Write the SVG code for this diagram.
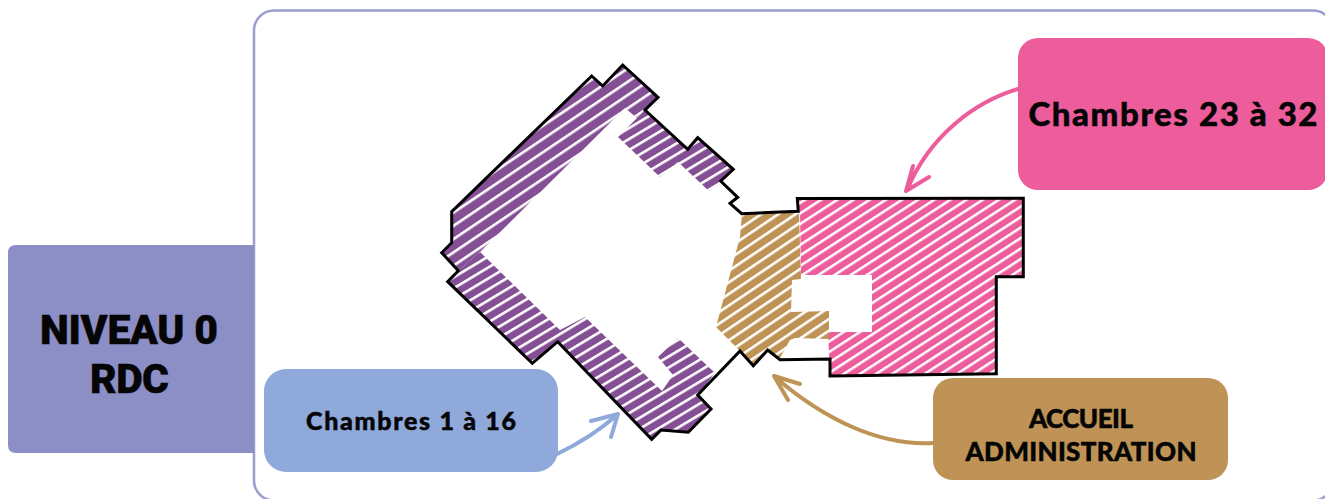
<svg xmlns="http://www.w3.org/2000/svg" width="1325" height="499" viewBox="0 0 1325 499">
<style>
.lbl{font-family:"Lato","Open Sans",sans-serif;font-weight:900;fill:#050505;stroke:#050505;stroke-width:.5;text-anchor:middle}
.head{font-family:"Roboto",sans-serif;font-weight:900;fill:#050505;stroke:#050505;stroke-width:.4;text-anchor:middle;font-size:41px}
.conn{fill:none;stroke-width:4;stroke-linecap:round;stroke-linejoin:round}
</style>
<defs>
<pattern id="hp" patternUnits="userSpaceOnUse" width="20" height="11" patternTransform="translate(452 212) rotate(-34)"><rect width="20" height="11" fill="#854f95"/><rect width="20" height="2.600" fill="#fff"/></pattern>
<pattern id="hq" patternUnits="userSpaceOnUse" width="20" height="9.400" patternTransform="translate(450 278) rotate(-31)"><rect width="20" height="9.400" fill="#854f95"/><rect width="20" height="2.600" fill="#fff"/></pattern>
<pattern id="hr" patternUnits="userSpaceOnUse" width="20" height="8.800" patternTransform="translate(800 212) rotate(-33)"><rect width="20" height="8.800" fill="#ed5c9b"/><rect width="20" height="2.500" fill="#fff"/></pattern>
<pattern id="hb" patternUnits="userSpaceOnUse" width="20" height="9.600" patternTransform="translate(742 214) rotate(-34)"><rect width="20" height="9.600" fill="#bf9355"/><rect width="20" height="2.600" fill="#fff"/></pattern>
</defs>
<rect width="1325" height="499" fill="#fff"/>
<rect id="frame" x="254" y="10.500" width="1079" height="490" rx="20" fill="#fff" stroke="#9a9dd0" stroke-width="2.500"/>
<g id="plan">
<polygon fill="url(#hp)" points="452,212 592,76 603,86 623,65 658,97 645,110 637,118 625,108 480,252 458,271 442,253 453,243"/>
<polygon fill="url(#hq)" points="645,110 688,149 698,138 733,169 721,181 709,191 678,162 660,177 618,137 637,118"/>
<polygon fill="url(#hq)" points="480,252 560,330 585,317 662,391 673,375 658,357 678,338 715,373 698,395 711,409 688,432 661,430 652,439 558,342 532,363 448,282 458,271"/>
<polygon fill="url(#hr)" points="800,212 797,199 1023,198 1023,277 996,277 996,374 830,376 828,332 872,332 872,275 801,275"/>
<polygon fill="url(#hb)" points="742,214 799,212 801,279 792,280 791,312 829,311 829,339 795,338 790,340 780,358 768,350 753,366 740,351 716,327 740,237"/>
<path fill="none" stroke="#000" stroke-width="3" stroke-linejoin="miter" d="M451.700,242.700 L451.700,211.700 L591.700,76 L602.700,86 L622.700,65 L658,97.300 L645,110 L687.700,149.300 L697.700,137.700 L733.300,169.300 L720.700,181 L737.700,197.300 L730,203.300 L741.700,213.700 L798.300,211.300 L797.300,198.500 L1023.300,198.300 L1023.300,276.700 L996.300,276.700 L996.300,373.700 L830,376 L830,359 L780,359.700 L767.700,350 L753.300,365.700 L740,351 L697.700,395 L711,409 L688.300,432.300 L661,430 L651.700,439.300 L557.700,341.700 L532.300,363.300 L447.700,281.700 L458.300,270.700 L441.700,252.700 Z"/>
</g>
<g id="niveau"><path d="M16,245 H254 V453 H16 Q8,453 8,445 V253 Q8,245 16,245 Z" fill="#8c8ec6"/>
<text class="head" x="129" y="344" textLength="178">NIVEAU 0</text><text class="head" x="129.500" y="393" textLength="79">RDC</text></g>
<g id="chambres-1-16"><rect x="264" y="369" width="294" height="103" rx="22" fill="#8fa9db"/>
<text class="lbl" x="411" y="430" font-size="25" textLength="210">Chambres 1 à 16</text></g>
<g id="chambres-23-32"><rect x="1018" y="38" width="310" height="152" rx="20" fill="#ed5c9b"/>
<text class="lbl" x="1173" y="126" font-size="33" textLength="289">Chambres 23 à 32</text></g>
<g id="accueil"><rect x="933" y="378" width="295" height="102" rx="20" fill="#bf9355"/>
<text class="lbl" x="1081" y="428" font-size="26" textLength="104">ACCUEIL</text><text class="lbl" x="1081" y="461" font-size="26" textLength="231">ADMINISTRATION</text></g>
<g id="connectors">
<path class="conn" stroke="#ed5c9b" d="M1018,89 C975,102 930,135 907,190 M913,166 L906,191 L929,177"/>
<path class="conn" stroke="#bf9355" d="M933,443 C880,446 825,420 775,377 M800,384 L774,376 L788,400"/>
<path class="conn" stroke="#8fa9db" d="M557,454 C580,443 600,430 617,415 M591,421 L618,414 L611,437"/>
</g>
</svg>
